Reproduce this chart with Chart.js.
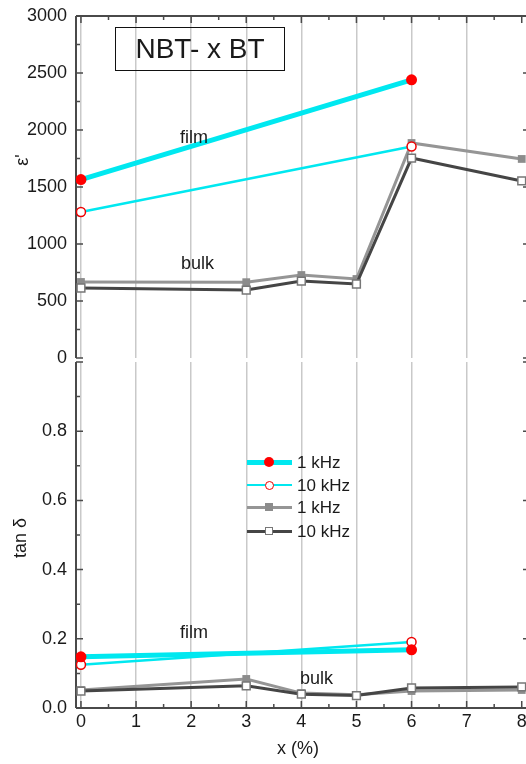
<!DOCTYPE html>
<html><head><meta charset="utf-8">
<script src="https://cdn.jsdelivr.net/npm/chart.js@4"></script>
<style>
html,body{margin:0;padding:0;background:#fff;width:526px;height:764px;overflow:hidden;position:relative;font-family:"Liberation Sans",Arial,sans-serif;color:#1a1a1a}
canvas{position:absolute;left:0}
#c1{top:0}
#c2{top:360px}
.lbl{position:absolute;font-size:18px;line-height:18px;white-space:nowrap}
.rot{position:absolute;font-size:18px;line-height:18px;white-space:nowrap;transform:translate(-50%,-50%) rotate(-90deg)}
#title{position:absolute;left:115px;top:27px;width:170px;height:44px;border:1.5px solid #111;box-sizing:border-box;font-size:28px;line-height:42px;text-align:center}
.lg{position:absolute;left:247px;width:130px;height:20px}
.lg .ln{position:absolute;left:0;width:45px;top:50%}
.lg .mk{position:absolute;box-sizing:border-box}
.lg .tx{position:absolute;left:50px;top:50%;transform:translateY(-50%);font-size:17px;line-height:17px;white-space:nowrap}
</style>
</head><body>
<canvas id="c1" width="530" height="372"></canvas>
<canvas id="c2" width="530" height="404"></canvas>
<div id="title">NBT- x BT</div>
<div class="lbl" style="left:180px;top:128px">film</div>
<div class="lbl" style="left:181px;top:254px">bulk</div>
<div class="lbl" style="left:180px;top:623px">film</div>
<div class="lbl" style="left:300px;top:669px">bulk</div>
<div class="rot" style="left:22px;top:160px">ε'</div>
<div class="rot" style="left:20px;top:538px">tan δ</div>
<div class="lbl" style="left:277px;top:739px">x (%)</div>
<div class="lg" style="top:452px"><div class="ln" style="height:5px;margin-top:-2.5px;background:#00e8f0"></div><div class="mk" style="left:17px;top:5px;width:10px;height:10px;border-radius:50%;background:#f00"></div><div class="tx">1 kHz</div></div>
<div class="lg" style="top:475px"><div class="ln" style="height:2.5px;margin-top:-1.25px;background:#00e8f0"></div><div class="mk" style="left:17.5px;top:5.5px;width:9px;height:9px;border-radius:50%;background:#fff;border:1.5px solid #e00"></div><div class="tx">10 kHz</div></div>
<div class="lg" style="top:497px"><div class="ln" style="height:3px;margin-top:-1.5px;background:#959595"></div><div class="mk" style="left:18px;top:6px;width:8px;height:8px;background:#8c8c8c"></div><div class="tx">1 kHz</div></div>
<div class="lg" style="top:521px"><div class="ln" style="height:3px;margin-top:-1.5px;background:#454545"></div><div class="mk" style="left:18px;top:6px;width:8px;height:8px;background:#fff;border:1.5px solid #777"></div><div class="tx">10 kHz</div></div>
<script>
const filmX = [0, 6];
const bulkX = [0, 3, 4, 5, 6, 8];
const epsFilm1k = [1565, 2440];
const epsFilm10k = [1280, 1855];
const epsBulk1k = [667, 665, 728, 693, 1886, 1746];
const epsBulk10k = [614, 596, 675, 649, 1754, 1553];
const tanFilm1k = [0.148, 0.168];
const tanFilm10k = [0.125, 0.191];
const tanBulk1k = [0.052, 0.084, 0.043, 0.038, 0.049, 0.052];
const tanBulk10k = [0.049, 0.064, 0.040, 0.036, 0.058, 0.061];
const xTicks = [0, 1, 2, 3, 4, 5, 6, 7, 8];

const CYAN = '#00e8f0';
const FONT = {family: '"Liberation Sans", Arial, sans-serif', size: 18};
const pts = (xs, ys) => xs.map((x, i) => ({x, y: ys[i]}));

function makeSets(f1, f10, b1, b10) {
  return [
    {data: pts(filmX, f1), borderColor: CYAN, borderWidth: 5, pointRadius: 5.5, pointBackgroundColor: '#f00', pointBorderColor: '#f00', pointBorderWidth: 0, pointStyle: 'circle'},
    {data: pts(filmX, f10), borderColor: CYAN, borderWidth: 2.5, pointRadius: 4.5, pointBackgroundColor: '#fff', pointBorderColor: '#e00', pointBorderWidth: 1.5, pointStyle: 'circle'},
    {data: pts(bulkX, b10), borderColor: '#454545', borderWidth: 3, pointRadius: 5.5, pointBackgroundColor: '#fff', pointBorderColor: '#777', pointBorderWidth: 1.5, pointStyle: 'rect'},
    {data: pts(bulkX, b1), borderColor: '#959595', borderWidth: 3, pointRadius: 5.5, pointBackgroundColor: '#8c8c8c', pointBorderColor: '#8c8c8c', pointBorderWidth: 0, pointStyle: 'rect'}
  ];
}

const framePlugin = {
  id: 'frame',
  beforeDatasetsDraw(chart, args, opts) {
    const {ctx, chartArea: a, scales: {x, y}} = chart;
    ctx.save();
    ctx.strokeStyle = '#4a4a4a';
    ctx.lineWidth = 2;
    const hy = opts.side === 'top' ? a.top : a.bottom;
    ctx.beginPath();
    ctx.moveTo(a.left, a.top); ctx.lineTo(a.left, a.bottom);
    ctx.moveTo(a.right, a.top); ctx.lineTo(a.right, a.bottom);
    ctx.moveTo(a.left, hy); ctx.lineTo(a.right, hy);
    ctx.stroke();
    ctx.lineWidth = 1.5;
    ctx.beginPath();
    const dir = opts.side === 'top' ? 1 : -1;
    for (let i = 0; i <= 16; i++) {
      const v = i / 2;
      const px = x.getPixelForValue(v);
      const len = i % 2 === 0 ? 7 : 4;
      ctx.moveTo(px, hy); ctx.lineTo(px, hy + dir * len);
    }
    const n = Math.round((y.max - y.min) / opts.minor);
    for (let i = 0; i <= n; i++) {
      const v = y.min + i * opts.minor;
      const py = y.getPixelForValue(v);
      const len = i % 2 === 0 ? 7 : 4;
      ctx.moveTo(a.left, py); ctx.lineTo(a.left + len, py);
      ctx.moveTo(a.right, py); ctx.lineTo(a.right - len, py);
    }
    ctx.stroke();
    ctx.restore();
  }
};

function zeroPad(s) { s.paddingTop = 0; s.paddingBottom = 0; s.paddingLeft = 0; s.paddingRight = 0; }

function xScale(showLabels) {
  return {
    type: 'linear', min: -0.09, max: 8.15,
    afterBuildTicks: s => { s.ticks = xTicks.map(v => ({value: v})); },
    afterFit: s => { s.height = showLabels ? 56 : 14; zeroPad(s); },
    ticks: {display: showLabels, font: FONT, color: '#1a1a1a', padding: 3, maxRotation: 0, autoSkip: false},
    grid: {drawTicks: false, lineWidth: 1.5, color: c => (c.tick && c.tick.value <= 7) ? '#c9c9c9' : 'rgba(0,0,0,0)'},
    border: {display: false}
  };
}

function yScale(min, max, step, fmt) {
  return {
    min, max,
    afterFit: s => { s.width = 76; zeroPad(s); },
    ticks: {stepSize: step, font: FONT, color: '#1a1a1a', padding: 9, callback: fmt},
    grid: {display: false, drawTicks: false},
    border: {display: false}
  };
}

const common = {
  responsive: false, animation: false,
  plugins: {legend: {display: false}, tooltip: {enabled: false}},
  elements: {line: {tension: 0}}
};

new Chart(document.getElementById('c1'), {
  type: 'line',
  data: {datasets: makeSets(epsFilm1k, epsFilm10k, epsBulk1k, epsBulk10k)},
  options: Object.assign({}, common, {
    layout: {autoPadding: false, padding: {top: 16, left: 0, right: 0, bottom: 0}},
    plugins: Object.assign({}, common.plugins, {frame: {side: 'top', minor: 250}}),
    scales: {x: xScale(false), y: yScale(0, 3000, 500, v => String(v))}
  }),
  plugins: [framePlugin]
});

new Chart(document.getElementById('c2'), {
  type: 'line',
  data: {datasets: makeSets(tanFilm1k, tanFilm10k, tanBulk1k, tanBulk10k)},
  options: Object.assign({}, common, {
    layout: {autoPadding: false, padding: {top: 2, left: 0, right: 0, bottom: 0}},
    plugins: Object.assign({}, common.plugins, {frame: {side: 'bottom', minor: 0.1}}),
    scales: {x: xScale(true), y: yScale(0, 1, 0.2, v => Math.abs(v - 1) < 1e-9 ? '' : Number(v).toFixed(1))}
  }),
  plugins: [framePlugin]
});
</script>
</body></html>
